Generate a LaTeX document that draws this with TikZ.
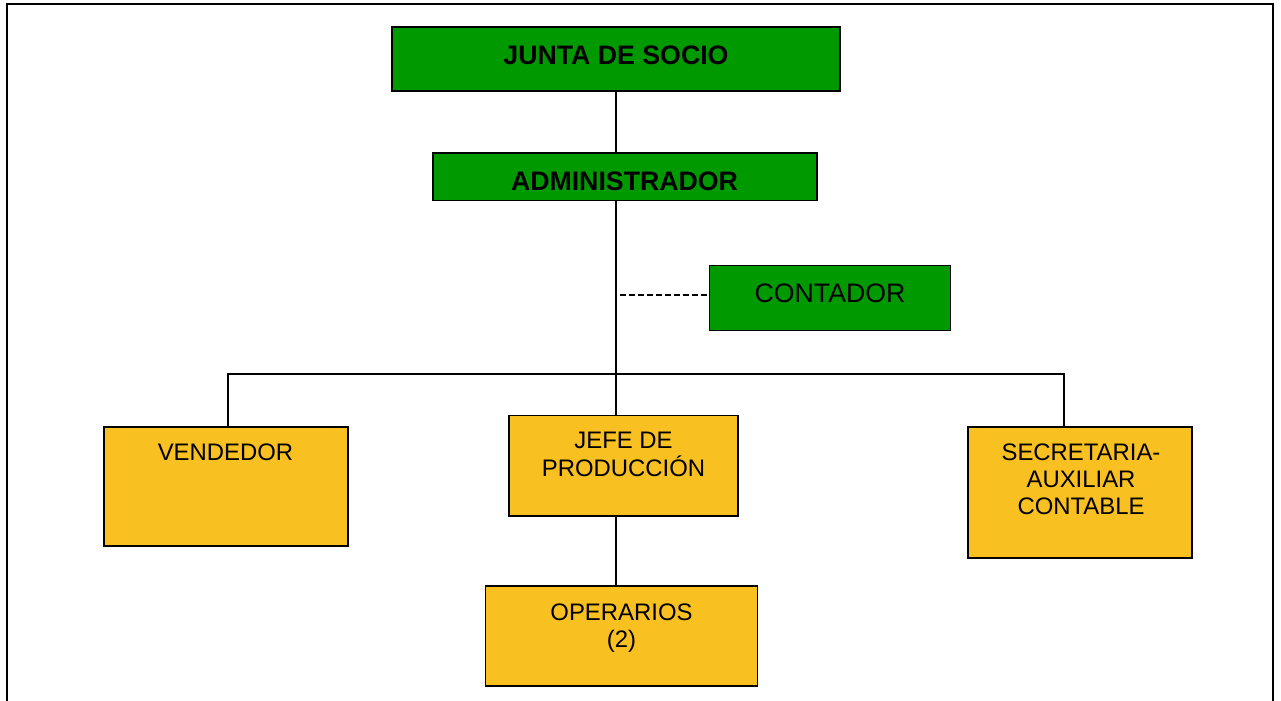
\documentclass[tikz,border=0pt]{standalone}
\usepackage{fontspec}
\setmainfont{Liberation Sans}
\usepackage{tikz}
\usetikzlibrary{calc,positioning}
\definecolor{verde}{RGB}{0,153,0}
\definecolor{amarillo}{RGB}{249,192,33}

\begin{document}
\begin{tikzpicture}[x=0.02cm,y=-0.02cm,
  cajaverde/.style={draw,fill=verde,line width=1.1pt,inner sep=0pt},
  cajaamarilla/.style={draw,fill=amarillo,line width=1.1pt,inner sep=0pt},
  texto/.style={anchor=north,inner sep=0pt,align=center,font=\fontsize{13.6}{15.6}\selectfont},
  negrita/.style={anchor=north,inner sep=0pt,font=\fontsize{15.2}{17}\selectfont\bfseries},
  linea/.style={line width=1pt}]
\useasboundingbox (0,0) rectangle (1281,700);
% marco
\draw[line width=1.3pt] (7,710) -- (7,4) -- (1273,4) -- (1273,710);
% cajas
\node[cajaverde,minimum width=8.96cm,minimum height=1.28cm] (junta) at (616,59) {};
\node[cajaverde,minimum width=7.68cm,minimum height=0.95cm] (admin) at (625,176.75) {};
\node[cajaverde,minimum width=4.82cm,minimum height=1.30cm] (cont) at (830,298) {};
\node[cajaamarilla,minimum width=4.88cm,minimum height=2.38cm] (vend) at (226,486.5) {};
\node[cajaamarilla,minimum width=4.58cm,minimum height=2.01cm] (jefe) at (623.5,465.75) {};
\node[cajaamarilla,minimum width=4.48cm,minimum height=2.62cm] (secr) at (1080,492.5) {};
\node[cajaamarilla,minimum width=5.44cm,minimum height=2.00cm] (oper) at (621.5,636) {};
% textos
\node[negrita] (tjunta) at (616,45) {JUNTA DE SOCIO};
\node[negrita] (tadmin) at (624.5,171.7) {ADMINISTRADOR};
\node[texto,font=\fontsize{15.2}{17}\selectfont] (tcont) at (830,283) {CONTADOR};
\node[texto] (tvend) at (225.5,443) {VENDEDOR};
\node[texto] (tjefe) at (623.5,432) {JEFE DE\\PRODUCCIÓN};
\node[texto] (tsecr) at (1081,443) {SECRETARIA-\\AUXILIAR\\CONTABLE};
\node[texto] (toper) at (621.5,603) {OPERARIOS\\(2)};
% lineas
\coordinate (bus) at (616,374);
\coordinate (bizq) at (228,374);
\coordinate (bder) at (1064,374);
\coordinate (guion) at (620,295);
\draw[linea] (junta.south) -- (junta.south |- admin.north);
\draw[linea] (admin.south -| bus) -- (jefe.north -| bus);
\draw[linea] (vend.north -| bizq) -- (bizq) -- (bder) -- (secr.north -| bder);
\draw[linea] (jefe.south -| bus) -- (oper.north -| bus);
\draw[line width=0.7pt,dash pattern=on 3.4pt off 1.7pt] (guion) -- (guion -| cont.west);
\end{tikzpicture}
\end{document}
